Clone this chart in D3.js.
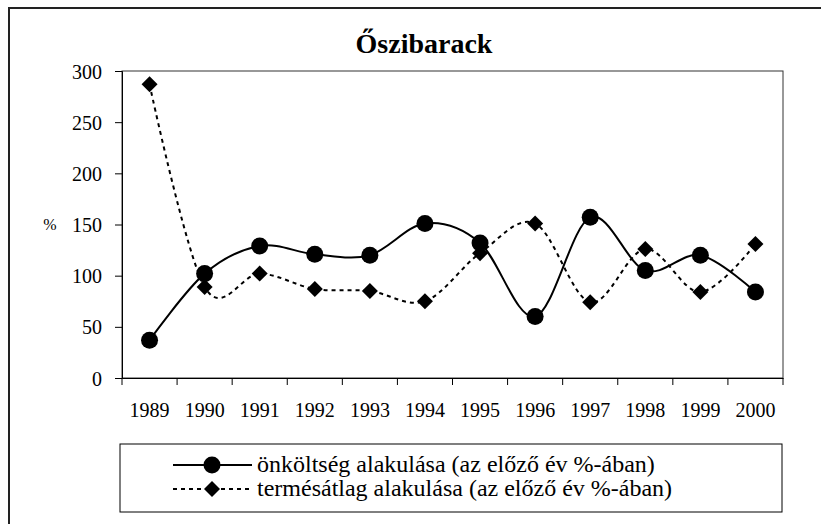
<!DOCTYPE html>
<html>
<head>
<meta charset="utf-8">
<script src="https://cdn.jsdelivr.net/npm/d3@7"></script>
<style>
  body { margin: 0; background: #fff; }
  text { font-family: "Liberation Serif", "Times New Roman", serif; fill: #000; }
</style>
</head>
<body>
<script>
var width = 821,
    height = 524;

// data
var years = ["1989", "1990", "1991", "1992", "1993", "1994", "1995", "1996", "1997", "1998", "1999", "2000"];
var onkoltseg = [37, 102, 129, 121, 120, 151, 132, 60, 157, 105, 120, 84];
var termesatlag = [287, 89, 102, 87, 85, 75, 122, 151, 74, 126, 84, 131];
var yTicks = [0, 50, 100, 150, 200, 250, 300];
var seriesNames = ["önköltség alakulása (az előző év %-ában)", "termésátlag alakulása (az előző év %-ában)"];

var margin = {left: 122, right: 783, top: 71, bottom: 378};

var svg = d3.select("body").append("svg")
    .attr("width", width)
    .attr("height", height);

// outer chart frame (runs off the right and bottom edge)
svg.append("rect")
    .attr("x", 9).attr("y", 8)
    .attr("width", 840).attr("height", 540)
    .attr("fill", "#fff")
    .attr("stroke", "#222")
    .attr("stroke-width", 2);

svg.append("text")
    .attr("x", 424).attr("y", 53)
    .attr("text-anchor", "middle")
    .attr("font-size", 28)
    .attr("font-weight", "bold")
    .text("Őszibarack");

var x = d3.scaleBand()
    .domain(years)
    .range([margin.left, margin.right]);

var y = d3.scaleLinear()
    .domain([0, 300])
    .range([margin.bottom, margin.top]);

// plot area border
svg.append("rect")
    .attr("x", margin.left).attr("y", margin.top)
    .attr("width", margin.right - margin.left)
    .attr("height", margin.bottom - margin.top)
    .attr("fill", "none")
    .attr("stroke", "#333")
    .attr("stroke-width", 1);

// y axis
var yAxis = svg.append("g")
    .attr("transform", "translate(" + margin.left + ",0)")
    .call(d3.axisLeft(y).tickValues(yTicks).tickSize(7).tickPadding(13));
yAxis.select(".domain").attr("stroke", "#000");
yAxis.selectAll("text").attr("font-size", 20).attr("dy", "0.35em");

// x axis, ticks sit between categories
var xAxis = svg.append("g")
    .attr("transform", "translate(0," + margin.bottom + ")")
    .call(d3.axisBottom(x).tickSize(0).tickPadding(25));
xAxis.select(".domain").attr("stroke", "#000");
xAxis.selectAll("text").attr("font-size", 20);
xAxis.selectAll(".edge")
    .data(d3.range(years.length + 1))
    .enter().append("line")
    .attr("class", "edge")
    .attr("x1", function(i) { return margin.left + i * x.step(); })
    .attr("x2", function(i) { return margin.left + i * x.step(); })
    .attr("y1", 0).attr("y2", 7)
    .attr("stroke", "#000");

svg.append("text")
    .attr("x", 50).attr("y", y(150) + 5)
    .attr("font-size", 16)
    .attr("text-anchor", "middle")
    .text("%");

var cx = function(d, i) { return x(years[i]) + x.bandwidth() / 2; };

var line = d3.line()
    .x(cx)
    .y(function(d) { return y(d); })
    .curve(d3.curveCatmullRom.alpha(0));

svg.append("path")
    .datum(termesatlag)
    .attr("d", line)
    .attr("fill", "none")
    .attr("stroke", "#000")
    .attr("stroke-width", 2)
    .attr("stroke-dasharray", "4,4");

svg.append("path")
    .datum(onkoltseg)
    .attr("d", line)
    .attr("fill", "none")
    .attr("stroke", "#000")
    .attr("stroke-width", 2);

var diamond = d3.symbol().type(d3.symbolSquare).size(128);

svg.selectAll(".dia")
    .data(termesatlag)
    .enter().append("path")
    .attr("class", "dia")
    .attr("d", diamond)
    .attr("transform", function(d, i) { return "translate(" + cx(d, i) + "," + y(d) + ")rotate(45)"; })
    .attr("fill", "#000");

svg.selectAll(".dot")
    .data(onkoltseg)
    .enter().append("circle")
    .attr("class", "dot")
    .attr("cx", cx)
    .attr("cy", function(d) { return y(d); })
    .attr("r", 8.5)
    .attr("fill", "#000");

// legend
var legend = svg.append("g");
legend.append("rect")
    .attr("x", 120).attr("y", 444)
    .attr("width", 662).attr("height", 68)
    .attr("fill", "#fff")
    .attr("stroke", "#000");

var rows = legend.selectAll(".row")
    .data(seriesNames)
    .enter().append("g")
    .attr("transform", function(d, i) { return "translate(0," + (465 + i * 24) + ")"; });

rows.append("line")
    .attr("x1", 173).attr("x2", 252)
    .attr("stroke", "#000")
    .attr("stroke-width", 2)
    .attr("stroke-dasharray", function(d, i) { return i ? "4,4" : null; });

rows.append("path")
    .attr("d", function(d, i) { return i ? diamond() : d3.symbol().type(d3.symbolCircle).size(227)(); })
    .attr("transform", function(d, i) { return "translate(212,0)" + (i ? "rotate(45)" : ""); })
    .attr("fill", "#000");

rows.append("text")
    .attr("x", 257).attr("y", 7)
    .attr("font-size", 24)
    .text(function(d) { return d; });
</script>
</body>
</html>
